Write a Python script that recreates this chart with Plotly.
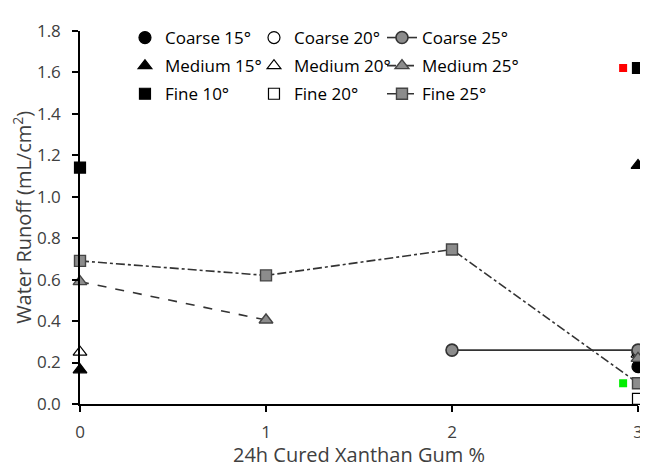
import plotly.graph_objects as go

x_vals = [0, 1, 2, 3]

coarse_15 = [None, None, None, 0.18]
coarse_20 = [None, None, None, 0.25]
coarse_25 = [None, None, 0.26, 0.26]
medium_15 = [0.165, None, None, 1.15]
medium_20 = [0.25, None, None, 0.24]
medium_25 = [0.59, 0.405, None, 0.22]
fine_10 = [1.14, None, None, 1.62]
fine_20 = [None, None, None, 0.025]
fine_25 = [0.69, 0.62, 0.745, 0.10]

# stray coloured marks present in the original figure
stray_x = [2.92, 2.92]
stray_y = [1.62, 0.10]
stray_colors = ["#ff0000", "#00ee00"]

y_ticks = [0.0, 0.2, 0.4, 0.6, 0.8, 1.0, 1.2, 1.4, 1.6, 1.8]

fig = go.Figure()

def add(name, y, symbol, color, legend, line=None, size=12, lw=1.2, lc="#000000"):
    mode = "lines+markers" if line else "markers"
    fig.add_trace(go.Scatter(
        x=x_vals, y=y, name=name, mode=mode, legend=legend, legendgroup=name,
        marker=dict(symbol=symbol, size=size, color=color,
                    line=dict(color=lc, width=lw)),
        line=dict(color="#333333", width=1.6, dash=line) if line else None,
        cliponaxis=False, connectgaps=False,
    ))

add("Coarse 15°", coarse_15, "circle", "#000000", "legend")
add("Medium 15°", medium_15, "triangle-up", "#000000", "legend")
add("Fine 10°", fine_10, "square", "#000000", "legend", size=11)
add("Coarse 20°", coarse_20, "circle-open", "#000000", "legend2")
add("Medium 20°", medium_20, "triangle-up-open", "#000000", "legend2")
add("Fine 20°", fine_20, "square-open", "#000000", "legend2", size=11)
add("Coarse 25°", coarse_25, "circle", "#8c8c8c", "legend3", line="solid", lw=1.6, lc="#333333")
add("Medium 25°", medium_25, "triangle-up", "#8c8c8c", "legend3", line="dash", lw=1.4, lc="#444444")
add("Fine 25°", fine_25, "square", "#8c8c8c", "legend3", line="dashdot", size=11, lw=1.4, lc="#444444")

fig.add_trace(go.Scatter(
    x=stray_x, y=stray_y, mode="markers", showlegend=False,
    marker=dict(symbol="square", size=8, color=stray_colors, line=dict(width=0)),
    cliponaxis=False,
))

font_family = "Open Sans, Liberation Sans, sans-serif"

def legend_cfg(xpos):
    return dict(
        orientation="v", x=xpos, y=1.0, xanchor="left", yanchor="top",
        font=dict(size=17, color="#000000", family=font_family),
        bgcolor="rgba(0,0,0,0)", itemwidth=30, tracegroupgap=3,
    )

fig.update_layout(
    width=640, height=460,
    margin=dict(l=72, r=10, t=0, b=64),
    paper_bgcolor="white", plot_bgcolor="white",
    font=dict(family=font_family, color="#404040"),
    showlegend=True,
    legend=legend_cfg(0.0806),
    legend2=legend_cfg(0.3118),
    legend3=legend_cfg(0.5412),
    xaxis=dict(
        range=[0, 3], tickvals=x_vals, ticktext=[str(v) for v in x_vals],
        showgrid=False, zeroline=False, showline=True, linecolor="#000000", linewidth=1.5,
        ticks="outside", ticklen=6, tickcolor="#000000", tickwidth=1.5,
        ticklabelstandoff=6, ticklabeloverflow="allow",
        tickfont=dict(size=17, color="#404040"),
        title=dict(text="24h Cured Xanthan Gum %", font=dict(size=20, color="#404040"), standoff=8),
    ),
    yaxis=dict(
        range=[0, 1.8], tickvals=y_ticks, tickformat=".1f",
        domain=[0, 0.9722],
        showgrid=False, zeroline=False, showline=True, linecolor="#000000", linewidth=1.5,
        ticks="outside", ticklen=6, tickcolor="#000000", tickwidth=1.5,
        ticklabelstandoff=8, ticklabeloverflow="allow",
        tickfont=dict(size=17, color="#404040"),
        title=dict(text="Water Runoff (mL/cm<sup>2</sup>)", font=dict(size=20, color="#404040"), standoff=1),
    ),
)

fig.write_html("out.html")
